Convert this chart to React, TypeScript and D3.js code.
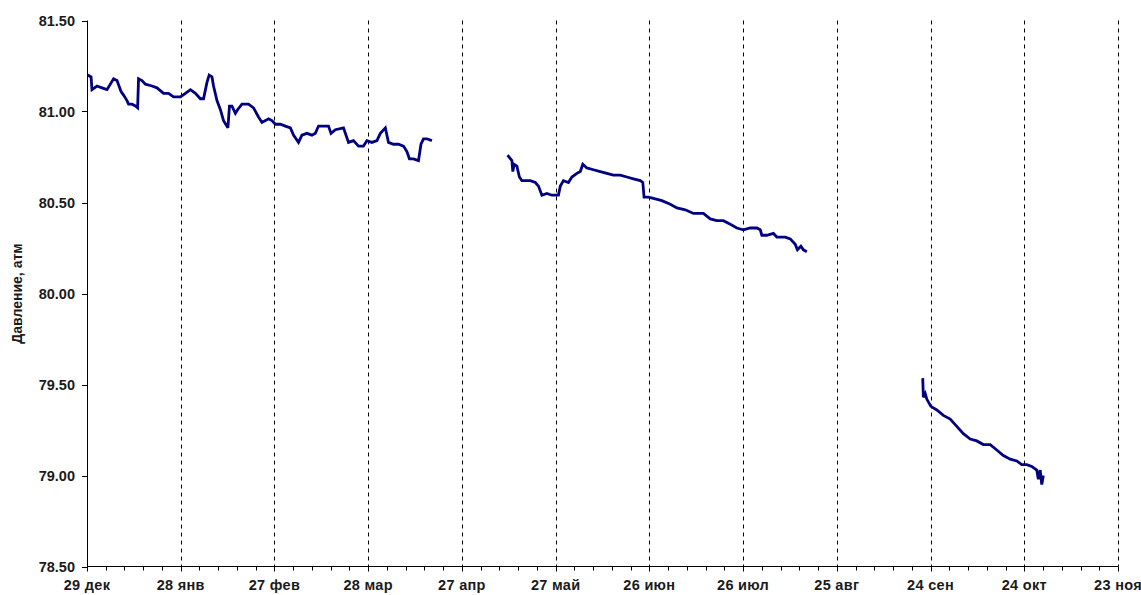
import React from "react";
import * as d3 from "d3";

// Time axis: 29 Dec 2007 .. 23 Nov 2008, major step 30 days, minor step 6 days
const START_UTC = Date.UTC(2007, 11, 29);
const DAY_MS = 86400000;
const SPAN_DAYS = 330;
const MAJOR_STEP = 30;
const MINOR_STEP = 6;
const MONTHS_RU = ["янв", "фев", "мар", "апр", "май", "июн", "июл", "авг", "сен", "окт", "ноя", "дек"];

const Y_TICKS = [78.5, 79.0, 79.5, 80.0, 80.5, 81.0, 81.5];
const Y_LABEL = "Давление, атм";

// Segment 1: days since 29 Dec, pressure (atm)
const seg1Days = [
  0.2, 1.3, 1.6, 3.2, 4.8, 6.4, 8.5, 9.6, 10.9, 11.7, 12.8, 13.3, 14.4, 15.5, 16.2, 16.5,
  17.6, 18.7, 20.8, 22.4, 24.5, 26.1, 27.7, 29.9, 31.5, 33.1, 34.7, 36.3, 37.3, 38.4, 39.1,
  40.0, 40.5, 41.6, 42.7, 43.7, 45.1, 45.6, 46.4, 47.5, 48.2, 49.6, 51.7, 53.3, 54.9, 56.0,
  57.1, 58.1, 59.2, 60.3, 61.9, 63.5, 65.1, 66.1, 67.7, 68.8, 70.4, 72.0, 73.1, 74.1, 75.7,
  77.3, 78.1, 79.5, 82.1, 83.7, 85.3, 86.9, 88.5, 89.6, 91.2, 92.8, 93.9, 95.5, 96.5, 98.1,
  99.7, 101.3, 102.4, 103.2, 104.5, 106.1, 106.9, 107.7, 108.8, 110.4,
];
const seg1Values = [
  81.2, 81.19, 81.12, 81.14, 81.13, 81.12, 81.18, 81.17, 81.11, 81.09, 81.06, 81.04, 81.04, 81.03, 81.02, 81.18,
  81.17, 81.15, 81.14, 81.13, 81.1, 81.1, 81.08, 81.08, 81.1, 81.12, 81.1, 81.07, 81.07, 81.16, 81.2,
  81.19, 81.14, 81.06, 81.01, 80.95, 80.91, 81.03, 81.03, 80.99, 81.01, 81.04, 81.04, 81.02, 80.97, 80.94,
  80.95, 80.96, 80.95, 80.93, 80.93, 80.92, 80.91, 80.87, 80.83, 80.87, 80.88, 80.87, 80.88, 80.92, 80.92,
  80.92, 80.88, 80.9, 80.91, 80.83, 80.84, 80.81, 80.81, 80.84, 80.83, 80.84, 80.88, 80.91, 80.83, 80.82,
  80.82, 80.81, 80.78, 80.74, 80.74, 80.73, 80.82, 80.85, 80.85, 80.84,
];

// Segment 2
const seg2Days = [
  134.6, 136.0, 136.3, 136.7, 137.6, 138.4, 139.2, 140.8, 141.9, 143.5, 144.5, 145.6, 147.2,
  148.8, 149.9, 150.9, 151.5, 152.5, 154.1, 155.2, 156.8, 157.9, 158.7, 160.0, 162.1, 164.3,
  166.4, 168.5, 170.7, 172.8, 174.9, 177.1, 177.9, 178.3, 179.7, 181.9, 184.0, 186.7, 188.8,
  191.5, 194.1, 197.3, 199.5, 201.6, 203.7, 205.9, 208.0, 210.1, 212.3, 214.4, 215.5, 216.0,
  217.6, 219.7, 220.8, 222.4, 223.5, 225.1, 226.7, 227.4, 228.5, 229.3, 230.4,
];
const seg2Values = [
  80.76, 80.73, 80.67, 80.71, 80.7, 80.64, 80.62, 80.62, 80.62, 80.61, 80.59, 80.54, 80.55,
  80.54, 80.54, 80.54, 80.59, 80.62, 80.61, 80.64, 80.66, 80.67, 80.71, 80.69, 80.68, 80.67,
  80.66, 80.65, 80.65, 80.64, 80.63, 80.62, 80.61, 80.53, 80.53, 80.52, 80.51, 80.49, 80.47,
  80.46, 80.44, 80.44, 80.41, 80.4, 80.4, 80.38, 80.36, 80.35, 80.36, 80.36, 80.35, 80.32,
  80.32, 80.33, 80.31, 80.31, 80.31, 80.3, 80.27, 80.24, 80.26, 80.24, 80.23,
];

// Segment 3
const seg3Days = [
  267.5, 267.7, 268.3, 268.8, 270.1, 272.0, 274.1, 276.3, 278.4, 280.5, 282.7, 284.8, 286.9,
  289.1, 291.2, 293.3, 295.5, 297.6, 299.2, 300.8, 302.4, 304.0, 304.5, 305.1, 305.6, 306.1,
];
const seg3Values = [
  79.535, 79.43, 79.45, 79.42, 79.38, 79.36, 79.33, 79.31, 79.27, 79.23, 79.2, 79.19, 79.17,
  79.17, 79.14, 79.11, 79.09, 79.08, 79.06, 79.06, 79.05, 79.03, 78.98, 79.03, 78.95, 79.0,
];

const W = 1141;
const H = 595;
const LEFT = 87;
const RIGHT = 1118;
const TOP = 20.5;
const BOTTOM = 566.5;
const FONT = "Arial, 'Liberation Sans', sans-serif";
const LINE_COLOR = "#000080";
const TEXT_COLOR = "#1a1a1a";

const dayToDate = (d: number) => new Date(START_UTC + d * DAY_MS);

export default function App() {
  const x = d3
    .scaleUtc()
    .domain([dayToDate(0), dayToDate(SPAN_DAYS)])
    .range([LEFT, RIGHT]);
  const y = d3.scaleLinear().domain([78.5, 81.5]).range([BOTTOM, TOP]);

  const majorTicks = d3.range(0, SPAN_DAYS + 1, MAJOR_STEP).map(dayToDate);
  const minorTicks = d3
    .range(0, SPAN_DAYS + 1, MINOR_STEP)
    .filter((d) => d % MAJOR_STEP !== 0)
    .map(dayToDate);
  const fmtDate = (t: Date) => `${t.getUTCDate()} ${MONTHS_RU[t.getUTCMonth()]}`;
  const fmtY = d3.format(".2f");

  const line = d3
    .line<[number, number]>()
    .x((p) => x(dayToDate(p[0])))
    .y((p) => y(p[1]));

  const segments: [number, number][][] = [
    seg1Days.map((d, i) => [d, seg1Values[i]]),
    seg2Days.map((d, i) => [d, seg2Values[i]]),
    seg3Days.map((d, i) => [d, seg3Values[i]]),
  ];

  return (
    <svg
      width={W}
      height={H}
      style={{ position: "absolute", left: 0, top: 0, background: "#fff" }}
      fontFamily={FONT}
    >
      <rect width={W} height={H} fill="#fff" />

      {/* vertical dashed gridlines at each major date */}
      {majorTicks.slice(1).map((t, i) => (
        <line
          key={`g${i}`}
          x1={Math.round(x(t)) + 0.5}
          x2={Math.round(x(t)) + 0.5}
          y1={TOP}
          y2={BOTTOM}
          stroke="#000"
          strokeWidth={1}
          strokeDasharray="4,4"
        />
      ))}

      {/* pressure series */}
      {segments.map((seg, i) => (
        <path
          key={`s${i}`}
          d={line(seg) ?? ""}
          fill="none"
          stroke={LINE_COLOR}
          strokeWidth={2.8}
          strokeLinejoin="miter"
          strokeMiterlimit={3}
        />
      ))}

      {/* y axis */}
      <line x1={LEFT + 0.5} x2={LEFT + 0.5} y1={TOP} y2={BOTTOM} stroke="#000" strokeWidth={1} />
      {Y_TICKS.map((v) => (
        <g key={`y${v}`}>
          <line
            x1={LEFT - 5}
            x2={LEFT + 0.5}
            y1={Math.round(y(v)) + 0.5}
            y2={Math.round(y(v)) + 0.5}
            stroke="#000"
          />
          <text
            x={LEFT - 12}
            y={y(v)}
            dy="0.35em"
            textAnchor="end"
            fontSize={14.5}
            fontWeight="bold"
            fill={TEXT_COLOR}
          >
            {fmtY(v)}
          </text>
        </g>
      ))}
      <text
        transform={`translate(22,${(TOP + BOTTOM) / 2}) rotate(-90)`}
        textAnchor="middle"
        fontSize={14}
        fontWeight="bold"
        fill={TEXT_COLOR}
      >
        {Y_LABEL}
      </text>

      {/* x axis */}
      <line x1={LEFT} x2={RIGHT + 0.5} y1={BOTTOM} y2={BOTTOM} stroke="#000" strokeWidth={1} />
      {minorTicks.map((t, i) => (
        <line
          key={`m${i}`}
          x1={Math.round(x(t)) + 0.5}
          x2={Math.round(x(t)) + 0.5}
          y1={BOTTOM}
          y2={BOTTOM + 4}
          stroke="#000"
        />
      ))}
      {majorTicks.map((t, i) => (
        <g key={`x${i}`}>
          <line
            x1={Math.round(x(t)) + 0.5}
            x2={Math.round(x(t)) + 0.5}
            y1={BOTTOM}
            y2={BOTTOM + 5}
            stroke="#000"
          />
          <text
            x={x(t)}
            y={BOTTOM + 23}
            textAnchor="middle"
            fontSize={14.5}
            fontWeight="bold"
            fill={TEXT_COLOR}
            letterSpacing={0.3}
          >
            {fmtDate(t)}
          </text>
        </g>
      ))}
    </svg>
  );
}
